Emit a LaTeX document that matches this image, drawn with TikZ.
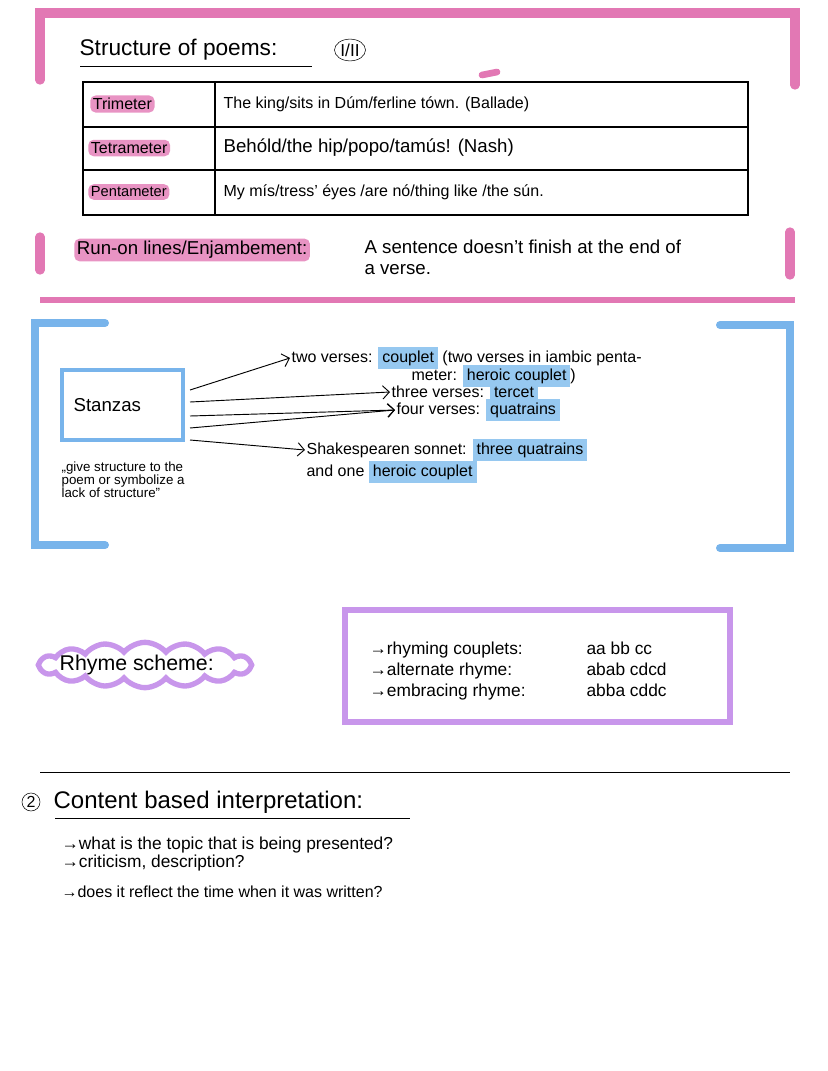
\documentclass[tikz,border=0pt]{standalone}
\usepackage{fontspec}
\setmainfont{Liberation Sans}
\usetikzlibrary{shapes.symbols,shapes.geometric,arrows.meta}
\definecolor{pk}{RGB}{226,120,180}
\definecolor{bl}{RGB}{120,180,235}
\definecolor{lb}{RGB}{150,200,240}
\definecolor{pu}{RGB}{200,150,235}
\tikzset{
 pkbar/.style={pk,line width=7pt,line cap=round},
 blbar/.style={bl,line width=6pt,line cap=round},
 txt/.style={anchor=west,font=\fontsize{12}{14}\selectfont,inner sep=1pt},
 small/.style={anchor=west,font=\fontsize{11}{12}\selectfont,inner sep=1pt,align=left},
 hpk/.style={fill=pk!80,rounded corners=4pt,inner sep=2pt},
 hbl/.style={fill=lb,rounded corners=4pt,inner sep=1.5pt},
 arr/.style={-{Straight Barb[length=5pt]},line width=0.7pt}
}
\begin{document}
\begin{tikzpicture}[x=0.75pt,y=-0.75pt]
\useasboundingbox (0,0) rectangle (828,1071);
% pink frame
\draw[pkbar] (40,80)--(40,13)--(795,13)--(795,85);
\draw[pkbar] (40,237)--(40,270);
\draw[pkbar] (790,232)--(790,275);
\draw[pk,line width=4pt] (40,300)--(795,300);
\draw[pk,line width=5pt,line cap=round] (482,75)--(497,72);
% title
\node[txt,font=\fontsize{17}{19}\selectfont] (title) at (78,50) {Structure of poems:};
\draw (80,66)--(312,66);
\node[draw,ellipse,inner sep=1pt,font=\fontsize{13}{14}\selectfont] (rom) at (350,50) {I/II};
% table
\draw[line width=1.3pt] (83,82) rectangle (748,215);
\draw[line width=1.3pt] (83,127)--(748,127) (83,170)--(748,170) (215,82)--(215,215);
\node[txt,hpk] (t1) at (90,104) {Trimeter};
\node[txt,hpk] (t2) at (88,148) {Tetrameter};
\node[txt,hpk,font=\fontsize{11}{12}\selectfont] (t3) at (88,192) {Pentameter};
\node[txt] (l1) at (222,104) {The king/sits in Dúm/ferline tówn. (Ballade)};
\node[txt,font=\fontsize{14}{15}\selectfont] (l2) at (222,148) {Behóld/the hip/popo/tamús! (Nash)};
\node[txt] (l3) at (222,192) {My mís/tress' éyes /are nó/thing like /the sún.};
% enjambement
\node[txt,hpk,font=\fontsize{14}{15}\selectfont] (run) at (74,250) {Run-on lines/Enjambement:};
\node[small,font=\fontsize{14}{16}\selectfont,anchor=north west] (sent) at (363,238) {A sentence doesn't finish at the end of\\a verse.};
% blue brackets
\draw[blbar] (105,323)--(35,323)--(35,545)--(105,545);
\draw[blbar] (720,325)--(790,325)--(790,548)--(720,548);
% stanzas
\draw[bl,line width=3.5pt] (62,370) rectangle (183,440);
\node[txt,font=\fontsize{14}{15}\selectfont] (st) at (72,405) {Stanzas};
\node[small,anchor=north west,font=\fontsize{10}{10}\selectfont] (q) at (60,460) {„give structure to the\\poem or symbolize a\\lack of structure"};
% arrow targets
\node[txt] (a1) at (290,358) {two verses: \colorbox{lb}{couplet} (two verses in iambic penta-};
\node[txt] (a1b) at (410,376) {meter: \colorbox{lb}{heroic couplet})};
\node[txt] (a2) at (390,392) {three verses: \colorbox{lb}{tercet}};
\node[txt] (a3) at (395,410) {four verses: \colorbox{lb}{quatrains}};
\node[txt] (a4) at (305,450) {Shakespearen sonnet: \colorbox{lb}{three quatrains}};
\node[txt] (a4b) at (305,472) {and one \colorbox{lb}{heroic couplet}};
\coordinate (s1) at (190,390);
\coordinate (s2) at (190,402);
\coordinate (s3) at (190,416);
\coordinate (s4) at (190,428);
\coordinate (s5) at (190,440);
\draw[arr] (s1)--(a1.west);
\draw[arr] (s2)--(a2.west);
\draw[arr] (s3)--(a3.west);
\draw[arr] (s4)--(a3.west);
\draw[arr] (s5)--(a4.west);
% rhyme scheme
\node[cloud,cloud puffs=16,cloud puff arc=100,aspect=5,draw=pu,line width=4pt,minimum width=160pt,minimum height=34pt] (cl) at (145,665) {};
\node[txt,font=\fontsize{16}{17}\selectfont] (rs) at (58,665) {Rhyme scheme:};
\draw[pu,line width=4pt] (345,610) rectangle (730,722);
\node[small,anchor=north west,font=\fontsize{13}{16}\selectfont] (rh) at (368,640) {→rhyming couplets:\\→alternate rhyme:\\→embracing rhyme:};
\node[small,anchor=north west,font=\fontsize{13}{16}\selectfont] (rh2) at (585,640) {aa bb cc\\abab cdcd\\abba cddc};
% content
\draw (40,772)--(790,772);
\node[draw,circle,inner sep=1pt,font=\fontsize{12}{12}\selectfont] (two) at (31,802) {2};
\node[txt,font=\fontsize{18}{19}\selectfont] (ct) at (52,802) {Content based interpretation:};
\draw (55,818)--(410,818);
\node[small,anchor=north west,font=\fontsize{13}{14}\selectfont] (cl1) at (60,835) {→what is the topic that is being presented?\\→criticism, description?};
\node[small,font=\fontsize{12}{13}\selectfont] (cl3) at (60,892) {→does it reflect the time when it was written?};
\end{tikzpicture}
\end{document}
